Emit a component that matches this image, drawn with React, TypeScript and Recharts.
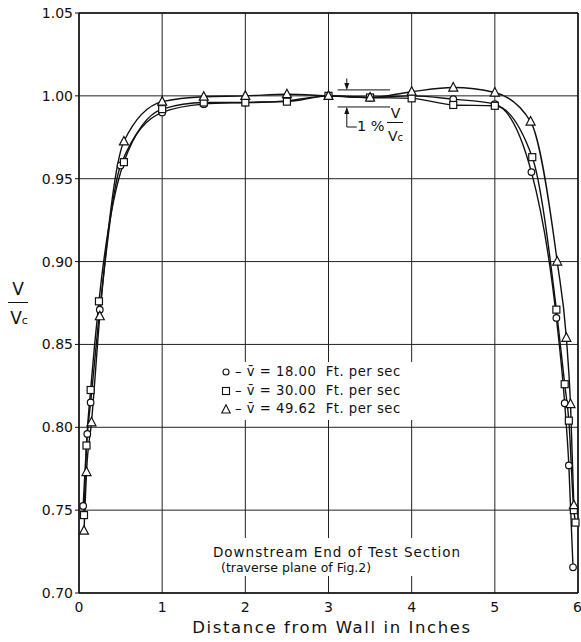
import React from 'react';
import {
  LineChart,
  Line,
  XAxis,
  YAxis,
  CartesianGrid,
  ReferenceLine,
  ReferenceDot
} from 'recharts';

// distance from wall (in) and V/Vc for each run
const circleX = [0.05, 0.1, 0.14, 0.25, 0.5, 1, 1.5, 2, 2.5, 3, 3.5, 4, 4.5, 5, 5.44, 5.74, 5.84, 5.89, 5.94];
const circleY = [0.7525, 0.796, 0.815, 0.871, 0.958, 0.99, 0.995, 0.996, 0.997, 1.0, 0.999, 1.0, 0.998, 0.995, 0.954, 0.866, 0.8145, 0.777, 0.7155];

const squareX = [0.06, 0.09, 0.14, 0.24, 0.54, 1, 1.5, 2, 2.5, 3, 3.5, 4, 4.5, 5, 5.45, 5.74, 5.84, 5.89, 5.95, 5.97];
const squareY = [0.747, 0.789, 0.8225, 0.876, 0.96, 0.992, 0.996, 0.996, 0.9965, 1.0, 0.999, 0.9985, 0.9945, 0.994, 0.963, 0.871, 0.826, 0.804, 0.75, 0.7425];

const triX = [0.06, 0.09, 0.15, 0.25, 0.54, 1, 1.5, 2, 2.5, 3, 3.5, 4, 4.5, 5, 5.43, 5.75, 5.86, 5.91, 5.95];
const triY = [0.7376, 0.773, 0.803, 0.867, 0.9725, 0.9965, 0.9995, 1.0, 1.001, 1.0, 0.999, 1.0025, 1.005, 1.002, 0.9845, 0.9, 0.854, 0.814, 0.753];

const xTicks = [0, 1, 2, 3, 4, 5, 6];
const yTicks = [0.7, 0.75, 0.8, 0.85, 0.9, 0.95, 1.0, 1.05];

const legendLines = [
  { mark: 'circle', text: '– v̄ = 18.00  Ft. per sec' },
  { mark: 'square', text: '– v̄ = 30.00  Ft. per sec' },
  { mark: 'triangle', text: '– v̄ = 49.62  Ft. per sec' }
];

const toRows = (xs: number[], ys: number[]) => xs.map((x, i) => ({ x, v: ys[i] }));

const FONT = '"DejaVu Sans", "Liberation Sans", sans-serif';
const INK = '#111';

const CircleDot = (p: any) => (
  <circle key={`c-${p.index}`} cx={p.cx} cy={p.cy} r={3.3} fill="#fff" stroke={INK} strokeWidth={1.2} />
);
const SquareDot = (p: any) => (
  <rect key={`s-${p.index}`} x={p.cx - 3.5} y={p.cy - 3.5} width={7} height={7} fill="#fff" stroke={INK} strokeWidth={1.2} />
);
const TriDot = (p: any) => (
  <polygon
    key={`t-${p.index}`}
    points={`${p.cx},${p.cy - 5} ${p.cx - 4.5},${p.cy + 3.5} ${p.cx + 4.5},${p.cy + 3.5}`}
    fill="#fff"
    stroke={INK}
    strokeWidth={1.2}
  />
);

function Mark({ kind }: { kind: string }) {
  return (
    <svg width={10} height={10} style={{ verticalAlign: 'middle', marginRight: 4 }}>
      {kind === 'circle' && <circle cx={5} cy={5} r={3} fill="#fff" stroke={INK} strokeWidth={1.1} />}
      {kind === 'square' && <rect x={1.5} y={1.5} width={7} height={7} fill="#fff" stroke={INK} strokeWidth={1.1} />}
      {kind === 'triangle' && <polygon points="5,0.8 0.8,9 9.2,9" fill="#fff" stroke={INK} strokeWidth={1.1} />}
    </svg>
  );
}

const arrowDown = (p: any) => (
  <polygon points={`${p.cx},${p.cy} ${p.cx - 2.5},${p.cy - 7} ${p.cx + 2.5},${p.cy - 7}`} fill={INK} />
);
const arrowUp = (p: any) => (
  <polygon points={`${p.cx},${p.cy} ${p.cx - 2.5},${p.cy + 7} ${p.cx + 2.5},${p.cy + 7}`} fill={INK} />
);

const abs = (left: number, top: number, extra: React.CSSProperties = {}): React.CSSProperties => ({
  position: 'absolute',
  left,
  top,
  fontFamily: FONT,
  color: INK,
  lineHeight: 1,
  whiteSpace: 'pre',
  ...extra
});

export default function App() {
  const seg = { stroke: INK, strokeWidth: 1, ifOverflow: 'visible' as const };
  return (
    <div style={{ position: 'absolute', left: 0, top: 0, width: 581, height: 642, background: '#fff' }}>
      <LineChart width={581} height={642} margin={{ top: 13, right: 3, bottom: 0, left: 0 }}>
        <CartesianGrid stroke="#222" strokeWidth={1} />
        <XAxis
          type="number"
          dataKey="x"
          domain={[0, 6]}
          ticks={xTicks}
          height={49}
          tickSize={0}
          tickMargin={9}
          axisLine={{ stroke: INK, strokeWidth: 1.5 }}
          tick={{ fill: INK, fontSize: 14, fontFamily: FONT }}
          allowDuplicatedCategory={false}
        />
        <YAxis
          type="number"
          domain={[0.7, 1.05]}
          ticks={yTicks}
          width={79}
          tickSize={4}
          tickMargin={2}
          tickFormatter={(v: number) => v.toFixed(2)}
          axisLine={{ stroke: INK, strokeWidth: 1.5 }}
          tickLine={{ stroke: INK }}
          tick={{ fill: INK, fontSize: 14, fontFamily: FONT }}
        />
        <ReferenceLine y={1.05} stroke={INK} strokeWidth={1.5} />
        <ReferenceLine x={6} stroke={INK} strokeWidth={1.5} />

        {/* 1% bracket */}
        <ReferenceLine segment={[{ x: 3.11, y: 1.0036 }, { x: 3.74, y: 1.0036 }]} {...seg} />
        <ReferenceLine segment={[{ x: 3.11, y: 0.9933 }, { x: 3.74, y: 0.9933 }]} {...seg} />
        <ReferenceLine segment={[{ x: 3.22, y: 1.0105 }, { x: 3.22, y: 1.0045 }]} {...seg} />
        <ReferenceLine segment={[{ x: 3.22, y: 0.9925 }, { x: 3.22, y: 0.9812 }]} {...seg} />
        <ReferenceLine segment={[{ x: 3.22, y: 0.9812 }, { x: 3.34, y: 0.9812 }]} {...seg} />
        <ReferenceDot x={3.22} y={1.0036} shape={arrowDown} ifOverflow="visible" />
        <ReferenceDot x={3.22} y={0.9933} shape={arrowUp} ifOverflow="visible" />

        <Line
          data={toRows(circleX, circleY)}
          dataKey="v"
          type="monotone"
          stroke={INK}
          strokeWidth={1.4}
          dot={CircleDot}
          isAnimationActive={false}
        />
        <Line
          data={toRows(squareX, squareY)}
          dataKey="v"
          type="monotone"
          stroke={INK}
          strokeWidth={1.4}
          dot={SquareDot}
          isAnimationActive={false}
        />
        <Line
          data={toRows(triX, triY)}
          dataKey="v"
          type="monotone"
          stroke={INK}
          strokeWidth={1.4}
          dot={TriDot}
          isAnimationActive={false}
        />
      </LineChart>

      {/* y axis title V / Vc */}
      <div style={abs(7, 281, { width: 22, textAlign: 'center', fontSize: 17 })}>V</div>
      <div style={{ position: 'absolute', left: 8, top: 302, width: 20, borderTop: `1.5px solid ${INK}` }} />
      <div style={abs(8, 310, { width: 22, textAlign: 'center', fontSize: 17 })}>
        V<span style={{ fontSize: 11 }}>c</span>
      </div>

      {/* x axis title */}
      <div style={abs(0, 620, { width: 664, textAlign: 'center', fontSize: 16.5, letterSpacing: 1.6 })}>
        Distance from Wall in Inches
      </div>

      {/* 1% label */}
      <div style={abs(357, 119, { fontSize: 14.5 })}>1 %</div>
      <div style={abs(388, 106, { width: 15, textAlign: 'center', fontSize: 14 })}>V</div>
      <div style={{ position: 'absolute', left: 387, top: 122, width: 16, borderTop: `1px solid ${INK}` }} />
      <div style={abs(388, 129, { fontSize: 14 })}>
        V<span style={{ fontSize: 10 }}>c</span>
      </div>

      {/* legend */}
      <div style={{ position: 'absolute', left: 216, top: 362, width: 198, height: 58, background: '#fff' }} />
      {legendLines.map((l, i) => (
        <div key={l.mark} style={abs(221, 365 + i * 18.5, { fontSize: 13.2, letterSpacing: 0.5 })}>
          <Mark kind={l.mark} />
          {l.text}
        </div>
      ))}

      {/* section note */}
      <div style={{ position: 'absolute', left: 205, top: 538, width: 266, height: 38, background: '#fff' }} />
      <div style={abs(205, 546, { width: 264, textAlign: 'center', fontSize: 13.5, letterSpacing: 1 })}>
        Downstream End of Test Section
      </div>
      <div style={abs(221, 562, { fontSize: 12.5 })}>
        (traverse plane of Fig.2)
      </div>
    </div>
  );
}
